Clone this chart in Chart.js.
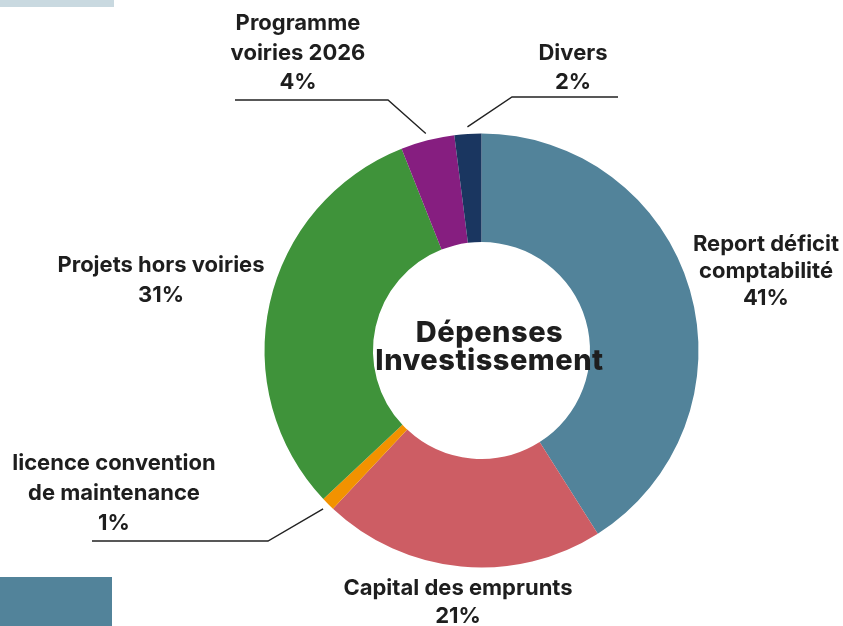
<!DOCTYPE html>
<html>
<head>
<meta charset="utf-8">
<script src="https://cdn.jsdelivr.net/npm/chart.js@4.4.1/dist/chart.umd.min.js"></script>
<style>
    html, body { margin: 0; padding: 0; background: #ffffff; }
    #wrap { position: relative; width: 843px; height: 626px; overflow: hidden; }
    .deco-top { position: absolute; left: 0; top: 0; width: 114px; height: 7px; background: #c9d9e0; }
    .deco-bottom { position: absolute; left: 0; top: 577px; width: 112px; height: 49px; background: #52839a; }
    canvas { position: absolute; left: 0; top: 0; }
</style>
</head>
<body>
<div id="wrap">
    <div class="deco-top"></div>
    <div class="deco-bottom"></div>
    <canvas id="depensesChart" width="843" height="626"></canvas>
</div>
<script>
const categories = ['Report déficit comptabilité', 'Capital des emprunts', 'licence convention de maintenance', 'Projets hors voiries', 'Programme voiries 2026', 'Divers'];
const percentages = [41, 21, 1, 31, 4, 2];
const sliceColors = ['#52839a', '#cd5d64', '#f29200', '#3f933a', '#861e80', '#1a3660'];

// label text lines (split as in the picture) and where they sit
const labelLines = [
    ['Report déficit', 'comptabilité'],
    ['Capital des emprunts'],
    ['licence convention', 'de maintenance'],
    ['Projets hors voiries'],
    ['Programme', 'voiries 2026'],
    ['Divers']
];
const labelLayout = [
    { x: 766, y: 251, lh: 27 },
    { x: 458, y: 595, lh: 28 },
    { x: 114, y: 470, lh: 30 },
    { x: 161, y: 272, lh: 30 },
    { x: 298, y: 30, lh: 29.5 },
    { x: 573, y: 60, lh: 29 }
];
// leader lines: elbow point + end of horizontal run (null = no leader)
const leaders = [
    null,
    null,
    { elbow: [268, 541], end: [92, 541] },
    null,
    { elbow: [388, 100], end: [235, 100] },
    { elbow: [512, 97], end: [618, 97] }
];

const TEXT = '#1e1e1e';
const FONT = 'Inter, "Noto Sans", sans-serif';

const labelPlugin = {
    id: 'sliceLabels',
    afterDatasetsDraw(chart) {
        const ctx = chart.ctx;
        const meta = chart.getDatasetMeta(0);
        ctx.save();

        // center title (sits a little right of the hole centre in the original)
        const cx = (chart.chartArea.left + chart.chartArea.right) / 2 + 8;
        ctx.fillStyle = TEXT;
        ctx.textAlign = 'center';
        ctx.textBaseline = 'alphabetic';
        ctx.font = '800 29px ' + FONT;
        ctx.letterSpacing = '0.5px';
        ctx.fillText('Dépenses', cx, 342);
        ctx.fillText('Investissement', cx, 370);

        ctx.letterSpacing = '0px';
        meta.data.forEach((arc, i) => {
            const lay = labelLayout[i];
            const lines = labelLines[i].concat([percentages[i] + '%']);
            ctx.font = '700 22px ' + FONT;
            ctx.fillStyle = TEXT;
            lines.forEach((t, k) => ctx.fillText(t, lay.x, lay.y + k * lay.lh));

            const ld = leaders[i];
            if (ld) {
                const p = arc.getProps(['x', 'y', 'startAngle', 'endAngle', 'outerRadius'], true);
                const mid = (p.startAngle + p.endAngle) / 2;
                const r = p.outerRadius + 7;
                ctx.beginPath();
                ctx.moveTo(p.x + Math.cos(mid) * r, p.y + Math.sin(mid) * r);
                ctx.lineTo(ld.elbow[0], ld.elbow[1]);
                ctx.lineTo(ld.end[0], ld.end[1]);
                ctx.strokeStyle = '#222222';
                ctx.lineWidth = 1.4;
                ctx.stroke();
            }
        });
        ctx.restore();
    }
};

new Chart(document.getElementById('depensesChart').getContext('2d'), {
    type: 'doughnut',
    data: {
        labels: categories,
        datasets: [{
            data: percentages,
            backgroundColor: sliceColors,
            borderWidth: 0,
            hoverOffset: 0
        }]
    },
    options: {
        responsive: false,
        animation: false,
        cutout: '50%',
        layout: {
            padding: { left: 264.5, right: 144.5, top: 133.5, bottom: 58.5 }
        },
        plugins: {
            legend: { display: false },
            tooltip: { enabled: false }
        }
    },
    plugins: [labelPlugin]
});
</script>
</body>
</html>
